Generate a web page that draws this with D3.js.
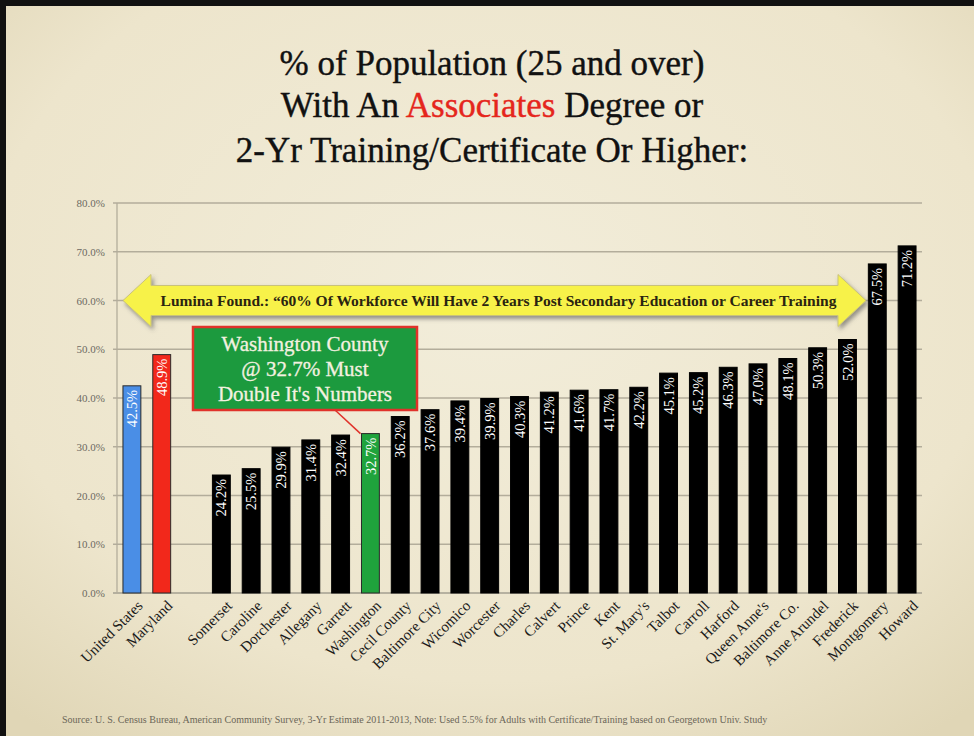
<!DOCTYPE html>
<html>
<head>
<meta charset="utf-8">
<script src="https://cdn.jsdelivr.net/npm/d3@7"></script>
<style>
  html, body { margin: 0; padding: 0; background: #000; }
  #chart { width: 974px; height: 736px; }
</style>
</head>
<body>
<div id="chart"></div>
<script>
// data
const categories = ['United States', 'Maryland', '', 'Somerset', 'Caroline', 'Dorchester', 'Allegany',
  'Garrett', 'Washington', 'Cecil County', 'Baltimore City', 'Wicomico', 'Worcester', 'Charles',
  'Calvert', 'Prince', 'Kent', "St. Mary's", 'Talbot', 'Carroll', 'Harford', "Queen Anne's",
  'Baltimore Co.', 'Anne Arundel', 'Frederick', 'Montgomery', 'Howard'];
const values = [42.5, 48.9, null, 24.2, 25.5, 29.9, 31.4, 32.4, 32.7, 36.2, 37.6, 39.4, 39.9, 40.3,
  41.2, 41.6, 41.7, 42.2, 45.1, 45.2, 46.3, 47.0, 48.1, 50.3, 52.0, 67.5, 71.2];
const yTicks = [0, 10, 20, 30, 40, 50, 60, 70, 80];
const highlight = {'United States': '#4a8ee6', 'Maryland': '#f2281b', 'Washington': '#1fa33c'};

const W = 974, H = 736;
const margin = {top: 203, right: 52, bottom: 143, left: 117};
const SERIF = '"Liberation Serif", "DejaVu Serif", serif';

const svg = d3.select('#chart').append('svg')
  .attr('width', W).attr('height', H);

const defs = svg.append('defs');
const bg = defs.append('radialGradient').attr('id', 'paper')
  .attr('cx', '50%').attr('cy', '40%').attr('r', '75%');
bg.append('stop').attr('offset', '0%').attr('stop-color', '#f2edda');
bg.append('stop').attr('offset', '70%').attr('stop-color', '#ede5cc');
bg.append('stop').attr('offset', '100%').attr('stop-color', '#e0d6b6');

const shadow = defs.append('filter').attr('id', 'shadow')
  .attr('x', '-5%').attr('y', '-30%').attr('width', '110%').attr('height', '170%');
shadow.append('feDropShadow').attr('dx', 2).attr('dy', 3).attr('stdDeviation', 2)
  .attr('flood-color', '#555').attr('flood-opacity', 0.6);

// slide background with black edge top/left
svg.append('rect').attr('width', W).attr('height', H).attr('fill', '#111');
svg.append('rect').attr('x', 6).attr('y', 6).attr('width', W - 6).attr('height', H - 6)
  .attr('fill', 'url(#paper)');

// title
const title = svg.append('text')
  .attr('text-anchor', 'middle')
  .attr('font-family', SERIF)
  .attr('font-size', 35)
  .attr('fill', '#111')
  .attr('stroke', '#111')
  .attr('stroke-width', 0.4);
title.append('tspan').attr('x', 492).attr('y', 75).text('% of Population (25 and over)');
const l2 = title.append('tspan').attr('x', 492).attr('y', 117);
l2.append('tspan').text('With An ');
l2.append('tspan').attr('fill', '#e5261c').attr('stroke', '#e5261c').text('Associates');
l2.append('tspan').text(' Degree or');
title.append('tspan').attr('x', 492).attr('y', 162).text('2-Yr Training/Certificate Or Higher:');

const width = W - margin.left - margin.right;
const height = H - margin.top - margin.bottom;

const g = svg.append('g').attr('transform', `translate(${margin.left},${margin.top})`);

const x = d3.scaleBand().domain(categories).range([0, width]).paddingInner(0.4).paddingOuter(0.2);
const y = d3.scaleLinear().domain([0, 80]).range([height, 0]);

// gridlines
g.append('g')
  .selectAll('line')
  .data(yTicks)
  .enter().append('line')
    .attr('x1', -4).attr('x2', width)
    .attr('y1', d => y(d)).attr('y2', d => y(d))
    .attr('stroke', d => d === 0 ? '#a39f91' : '#b3ad9b')
    .attr('stroke-width', 1.3);

g.append('line')
  .attr('x1', 0).attr('x2', 0).attr('y1', 0).attr('y2', height)
  .attr('stroke', '#b3ad9b').attr('stroke-width', 1.3);

// y axis labels
const yAxis = g.append('g')
  .call(d3.axisLeft(y).tickValues(yTicks).tickSize(0).tickPadding(12)
    .tickFormat(d => d.toFixed(1) + '%'));
yAxis.select('.domain').remove();
yAxis.selectAll('text')
  .attr('font-family', SERIF)
  .attr('font-size', 11)
  .attr('fill', '#6d6a62');

// bars
const data = categories.map((c, i) => ({key: c, value: values[i]})).filter(d => d.value !== null);

const bars = g.selectAll('.bar')
  .data(data)
  .enter().append('g')
    .attr('class', 'bar');

bars.append('rect')
  .attr('x', d => x(d.key))
  .attr('y', d => y(d.value))
  .attr('width', x.bandwidth())
  .attr('height', d => y(0) - y(d.value))
  .attr('fill', d => highlight[d.key] || '#000')
  .attr('stroke', d => highlight[d.key] ? '#2a2a2a' : '#000')
  .attr('stroke-width', 1);

bars.append('text')
  .attr('transform', d => `translate(${x(d.key) + x.bandwidth() / 2},${y(d.value) + 4}) rotate(-90)`)
  .attr('text-anchor', 'end')
  .attr('dy', '0.35em')
  .attr('font-family', SERIF)
  .attr('font-size', 14.5)
  .attr('fill', '#fff')
  .text(d => d.value.toFixed(1) + '%');

// category labels
const xAxis = g.append('g')
  .attr('transform', `translate(0,${height})`)
  .call(d3.axisBottom(x).tickSize(0).tickPadding(0));
xAxis.select('.domain').remove();
xAxis.selectAll('text')
  .attr('font-family', SERIF)
  .attr('font-size', 15)
  .attr('fill', '#1a1a1a')
  .attr('text-anchor', 'end')
  .attr('transform', 'translate(8,10) rotate(-45)')
  .attr('dy', '0.35em');

// Lumina arrow at the 60% line
const ay = y(60), ax0 = 6, ax1 = width - 56;
const sh = 15, hh = 26, hw = 28;
const arrowPath = d3.path();
arrowPath.moveTo(ax0, ay);
arrowPath.lineTo(ax0 + hw, ay - hh);
arrowPath.lineTo(ax0 + hw, ay - sh);
arrowPath.lineTo(ax1 - hw, ay - sh);
arrowPath.lineTo(ax1 - hw, ay - hh);
arrowPath.lineTo(ax1, ay);
arrowPath.lineTo(ax1 - hw, ay + hh);
arrowPath.lineTo(ax1 - hw, ay + sh);
arrowPath.lineTo(ax0 + hw, ay + sh);
arrowPath.lineTo(ax0 + hw, ay + hh);
arrowPath.closePath();

g.append('path')
  .attr('d', arrowPath.toString())
  .attr('fill', '#f7f24a')
  .attr('stroke', '#c9c27a')
  .attr('stroke-width', 1)
  .attr('filter', 'url(#shadow)');

g.append('text')
  .attr('x', (ax0 + ax1) / 2 + 4)
  .attr('y', ay)
  .attr('dy', '0.35em')
  .attr('text-anchor', 'middle')
  .attr('font-family', SERIF)
  .attr('font-weight', 'bold')
  .attr('font-size', 15.5)
  .attr('fill', '#2a2410')
  .text('Lumina Found.:  \u201c60% Of Workforce Will Have 2 Years Post Secondary Education or Career Training');

// Washington callout
const wash = data.find(d => d.key === 'Washington');
const box = {x: 193 - margin.left, y: 327 - margin.top, w: 224, h: 83};

g.append('line')
  .attr('x1', box.x + 142).attr('y1', box.y + box.h)
  .attr('x2', x(wash.key) - 1).attr('y2', y(wash.value))
  .attr('stroke', '#e0322a').attr('stroke-width', 1.5);

g.append('rect')
  .attr('x', box.x).attr('y', box.y)
  .attr('width', box.w).attr('height', box.h)
  .attr('fill', '#1c9a3e')
  .attr('stroke', '#e0322a')
  .attr('stroke-width', 2.5);

const callout = g.append('text')
  .attr('text-anchor', 'middle')
  .attr('font-family', SERIF)
  .attr('font-size', 21)
  .attr('fill', '#f4f1e0')
  .attr('stroke', '#f4f1e0')
  .attr('stroke-width', 0.3);
['Washington County', '@ 32.7% Must', "Double It's Numbers"].forEach((t, i) => {
  callout.append('tspan')
    .attr('x', box.x + box.w / 2)
    .attr('y', box.y + 24 + i * 25)
    .text(t);
});

// source note
svg.append('text')
  .attr('x', 62).attr('y', 723)
  .attr('font-family', SERIF)
  .attr('font-size', 10)
  .attr('fill', '#6b6658')
  .text('Source: U. S. Census Bureau, American Community Survey, 3-Yr Estimate 2011-2013, Note: Used 5.5% for Adults with Certificate/Training based on Georgetown Univ. Study');
</script>
</body>
</html>
